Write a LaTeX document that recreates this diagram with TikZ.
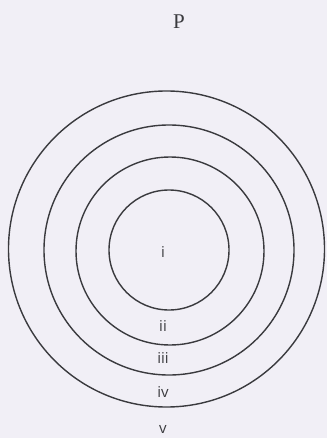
\documentclass[tikz,border=0pt]{standalone}
\usepackage{fontspec}
\newfontfamily\labelfont{Open Sans}
\newfontfamily\titlefont{Liberation Serif}
\definecolor{paper}{HTML}{F1EFF6}
\definecolor{ink}{HTML}{3A3A3E}
\begin{document}
\begin{tikzpicture}[x=1pt,y=-1pt,ring/.style={draw=ink, line width=1.4pt},zone/.style={font=\labelfont\fontsize{15}{17}\selectfont, text=ink, inner sep=0pt},title/.style={font=\titlefont\fontsize{21}{24}\selectfont, text=ink, inner sep=0pt}]
\fill[paper] (0,0) rectangle (327,438); \useasboundingbox (0,0) rectangle (327,438);
\node[title] (P) at (179,22) {P};
\draw[ring] (166.5,249) circle (158); \draw[ring] (169,250) circle (125);
\draw[ring] (170,251) circle (94); \draw[ring] (169,250) circle (60);
\node[zone] (z1) at (163,252) {i}; \node[zone] (z2) at (163,326) {ii};
\node[zone] (z3) at (163,358) {iii}; \node[zone] (z4) at (163,392) {iv};
\node[zone] (z5) at (163,429) {v};
\end{tikzpicture}
\end{document}
